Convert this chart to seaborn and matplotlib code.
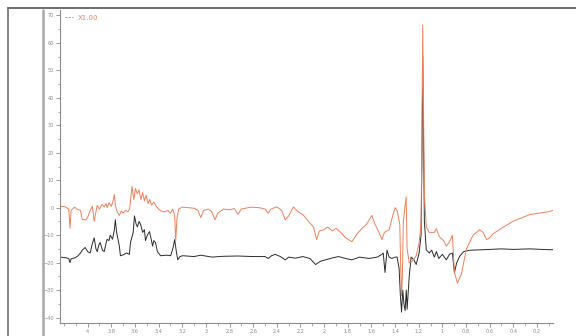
import numpy as np
import pandas as pd
import seaborn as sns
import matplotlib
matplotlib.use("Agg")
import matplotlib.pyplot as plt
from matplotlib.lines import Line2D
from matplotlib.ticker import MultipleLocator, FuncFormatter

# Chemical shift (ppm) and intensity for the scaled trace (X1.00)
ppm_a = [4.234, 4.19, 4.16, 4.149, 4.14, 4.11, 4.09, 4.06, 4.047, 4.02, 4.00, 3.979,
         3.96, 3.945, 3.93, 3.92, 3.90, 3.88, 3.86, 3.845, 3.835, 3.82, 3.80, 3.785,
         3.774, 3.766, 3.75, 3.732, 3.715, 3.70, 3.68, 3.66, 3.645, 3.625, 3.61, 3.595,
         3.58, 3.565, 3.55, 3.535, 3.52, 3.505, 3.49, 3.475, 3.46, 3.44, 3.42, 3.40,
         3.38, 3.35, 3.32, 3.30, 3.28, 3.264, 3.255, 3.245, 3.23, 3.20, 3.15, 3.10,
         3.068, 3.043, 3.02, 2.98, 2.95, 2.923, 2.90, 2.85, 2.80, 2.76, 2.728, 2.70,
         2.62, 2.55, 2.50, 2.472, 2.45, 2.40, 2.36, 2.328, 2.30, 2.26, 2.22, 2.18,
         2.132, 2.09, 2.064, 2.04, 2.00, 1.97, 1.93, 1.90, 1.86, 1.817, 1.766, 1.72,
         1.68, 1.64, 1.596, 1.57, 1.536, 1.511, 1.49, 1.45, 1.42, 1.40, 1.383, 1.36,
         1.352, 1.345, 1.338, 1.33, 1.306, 1.298, 1.28, 1.255, 1.221, 1.196, 1.18,
         1.172, 1.166, 1.160, 1.152, 1.136, 1.111, 1.068, 1.051, 1.026, 0.99, 0.966,
         0.94, 0.915, 0.898, 0.872, 0.838, 0.796, 0.74, 0.685, 0.655, 0.626, 0.60,
         0.574, 0.50, 0.404, 0.26, 0.106, 0.064]
int_a = [0.5, 0.3, -0.5, -7.5, -1.0, 0.2, -0.5, -1.0, -4.2, -4.5, -3.5, -1.0,
         0.5, -5.0, -1.5, 0.8, -0.5, 1.2, 0.3, 1.5, 0.0, 1.8, 0.5, 2.5,
         4.8, 1.0, -1.5, -2.8, -1.2, -2.0, -1.0, -1.5, -0.5, 7.8, 3.0, 7.0,
         5.0, 6.5, 3.0, 5.5, 2.5, 4.5, 1.5, 3.0, 1.0, 2.0, 0.5, -0.5,
         -1.2, -1.5, -1.0, -2.0, -0.5, -3.0, -12.0, -4.0, -0.5, 0.2, 0.0, -0.2,
         -1.0, -3.6, -1.0, -0.5, -1.5, -4.4, -2.0, -0.5, -0.8, -0.3, -2.4, -0.5,
         0.2, 0.0, -0.5, -2.0, -0.5, 0.3, -1.0, -4.4, -3.0, 0.3, -1.5, -2.5,
         -5.0, -7.0, -11.6, -8.5, -8.0, -7.0, -8.5, -7.5, -9.0, -11.0, -12.4, -9.5,
         -7.5, -6.0, -2.8, -6.0, -9.0, -11.6, -9.0, -8.0, -3.0, 0.0, -1.0, -6.0,
         -22.0, -32.0, -25.0, -5.0, 4.0, -15.0, -20.0, -19.5, -17.5, -12.7, -6.0,
         30.0, 66.5, 40.0, 5.0, -7.0, -9.0, -9.0, -7.6, -10.5, -12.0, -14.0,
         -12.5, -10.0, -23.6, -27.5, -24.0, -15.0, -10.0, -8.0, -9.0, -11.6, -11.0,
         -9.6, -7.5, -5.0, -2.5, -1.5, -1.0]

# Chemical shift (ppm) and intensity for the reference trace
ppm_b = [4.234, 4.19, 4.16, 4.149, 4.14, 4.11, 4.089, 4.06, 4.047, 4.021, 4.00, 3.979,
         3.96, 3.945, 3.93, 3.919, 3.905, 3.894, 3.875, 3.860, 3.845, 3.835, 3.82, 3.809,
         3.79, 3.774, 3.766, 3.755, 3.732, 3.723, 3.70, 3.67, 3.647, 3.638, 3.615, 3.604,
         3.59, 3.579, 3.565, 3.553, 3.535, 3.52, 3.511, 3.495, 3.477, 3.46, 3.451, 3.44,
         3.426, 3.41, 3.383, 3.33, 3.298, 3.28, 3.264, 3.25, 3.238, 3.22, 3.196, 3.10,
         3.043, 2.95, 2.85, 2.728, 2.60, 2.50, 2.472, 2.445, 2.413, 2.37, 2.328, 2.30,
         2.243, 2.18, 2.12, 2.072, 2.03, 1.987, 1.93, 1.877, 1.82, 1.766, 1.70, 1.621,
         1.55, 1.511, 1.50, 1.485, 1.468, 1.45, 1.426, 1.40, 1.383, 1.366, 1.355, 1.345,
         1.335, 1.325, 1.315, 1.305, 1.298, 1.28, 1.264, 1.24, 1.221, 1.196, 1.18, 1.172,
         1.166, 1.160, 1.152, 1.136, 1.111, 1.09, 1.068, 1.05, 1.03, 1.00, 0.966, 0.94,
         0.915, 0.898, 0.878, 0.855, 0.82, 0.77, 0.65, 0.50, 0.40, 0.26, 0.106, 0.064]
int_b = [-18.0, -18.2, -18.5, -20.0, -18.6, -18.3, -17.8, -16.5, -15.5, -14.5, -16.0, -16.5,
         -13.0, -11.0, -15.0, -16.0, -13.5, -12.7, -15.5, -16.0, -13.0, -11.5, -12.0, -10.0,
         -11.5, -8.0, -4.4, -9.0, -14.0, -17.5, -17.2, -16.5, -17.0, -12.7, -9.0, -3.0,
         -6.0, -7.0, -5.0, -6.0, -9.0, -8.0, -12.0, -10.0, -8.7, -12.0, -14.0, -12.0,
         -12.7, -16.0, -17.5, -17.3, -17.5, -15.0, -11.6, -16.0, -19.0, -17.8, -17.5, -17.8,
         -17.3, -18.0, -17.7, -17.6, -17.8, -17.8, -18.5, -17.5, -17.0, -17.8, -19.0, -18.0,
         -18.4, -17.8, -18.5, -20.7, -19.5, -19.0, -18.3, -17.8, -18.5, -19.0, -18.0, -18.5,
         -18.0, -17.0, -16.5, -23.6, -15.5, -18.0, -18.5, -18.0, -18.0, -22.0, -32.0, -38.0,
         -30.0, -35.0, -37.5, -30.0, -37.0, -25.0, -18.0, -19.0, -20.7, -16.4, -10.0, 20.0,
         55.0, 30.0, -5.0, -15.3, -16.5, -15.5, -18.0, -16.0, -18.5, -17.0, -19.0, -17.0,
         -16.5, -23.6, -20.0, -17.8, -16.0, -15.5, -15.3, -15.0, -15.2, -15.0, -15.3, -15.3]

legend_label = "X1.00"
x_ticks_major = [4.0, 3.8, 3.6, 3.4, 3.2, 3.0, 2.8, 2.6, 2.4, 2.2, 2.0, 1.8, 1.6,
                 1.4, 1.2, 1.0, 0.8, 0.6, 0.4, 0.2]

orange = "#f08058"
dark = "#2b2b2b"
grey = "#8c8c8c"

df_a = pd.DataFrame({"ppm": ppm_a, "intensity": int_a})
df_b = pd.DataFrame({"ppm": ppm_b, "intensity": int_b})

sns.set_style("white")
plt.rcParams["font.family"] = ["DejaVu Sans"]

fig = plt.figure(figsize=(5.76, 3.36), dpi=100)
ax = fig.add_axes([60 / 576, 13 / 336, (553 - 60) / 576, (326 - 13) / 336])

sns.lineplot(data=df_b, x="ppm", y="intensity", ax=ax, color=dark, lw=0.7,
             estimator=None, sort=False)
sns.lineplot(data=df_a, x="ppm", y="intensity", ax=ax, color=orange, lw=0.7,
             estimator=None, sort=False, label=legend_label)

ax.set_xlim(4.234, 0.064)
ax.set_ylim(-42.0, 72.0)
ax.set_xlabel("")
ax.set_ylabel("")

for side in ("top", "right"):
    ax.spines[side].set_visible(False)
for side in ("left", "bottom"):
    ax.spines[side].set_color(grey)
    ax.spines[side].set_linewidth(0.8)

ax.yaxis.set_major_locator(MultipleLocator(10))
ax.yaxis.set_minor_locator(MultipleLocator(5))
ax.set_xticks(x_ticks_major)
ax.xaxis.set_minor_locator(MultipleLocator(0.1))
ax.xaxis.set_major_formatter(FuncFormatter(lambda v, p: f"{v:g}"))
ax.tick_params(axis="both", which="major", direction="out", length=3, width=0.6,
               color=grey, labelsize=3.6, labelcolor=grey, pad=1.2)
ax.tick_params(axis="both", which="minor", direction="out", length=1.8, width=0.5,
               color=grey)
ax.tick_params(left=True, bottom=True, which="both")

leg = ax.legend(loc="upper left", frameon=False, fontsize=5, handlelength=1.2,
                handletextpad=0.6, borderaxespad=0.3, bbox_to_anchor=(0.0, 1.0),
                labelcolor=orange)
for h in leg.get_lines():
    h.set_linestyle((0, (2, 1.5)))
    h.set_linewidth(0.7)

# Window frame around the plot panel
fig.add_artist(Line2D([8 / 576, 8 / 576], [0, 1 - 8 / 336], color="#6e6e6e", lw=1.2,
                      transform=fig.transFigure))
fig.add_artist(Line2D([8 / 576, 1], [1 - 8 / 336, 1 - 8 / 336], color="#6e6e6e", lw=1.4,
                      transform=fig.transFigure))
fig.add_artist(Line2D([43 / 576, 43 / 576], [0, 1 - 10 / 336], color="#a8a8a8", lw=1.8,
                      transform=fig.transFigure))

fig.savefig("out.png", dpi=100)
